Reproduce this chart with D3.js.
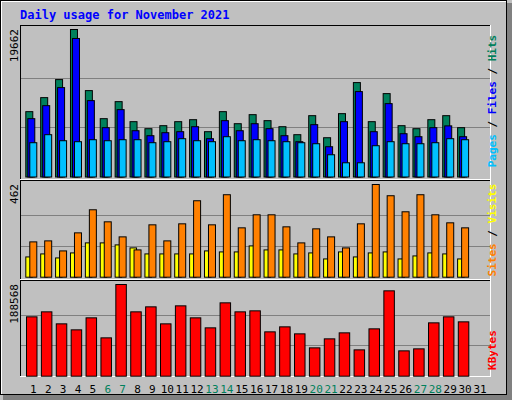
<!DOCTYPE html><html><head><meta charset="utf-8"><script src="https://cdn.jsdelivr.net/npm/d3@7"></script>
<style>body{margin:0;background:#fff}</style></head><body><svg id="c" width="512" height="400"></svg>
<script>
const days=d3.range(1,32);
const weekend=[6,7,13,14,20,21,27,28];
const hits=[8710,10580,12985,19662,11515,7775,10045,7375,6440,6840,7375,7640,6040,8710,7105,8310,7510,6705,5640,8175,5235,8445,12585,7375,11115,6840,6440,7640,8175,6575];
const files=[7775,9510,11915,18465,10180,6575,8980,6170,5505,5905,6040,6705,5105,7510,6170,7105,6440,5505,4705,6975,4035,7375,11385,6040,9780,5770,5370,6575,6815,5370];
const pages=[4570,5640,4835,4705,4970,4835,4970,4970,4570,4705,5105,4835,4705,5370,4835,4970,4835,4705,4570,4435,2965,1895,1895,4170,4705,4435,4435,4570,5105,4970];
const visits=[101,116,96,121,171,171,161,146,116,116,116,116,131,126,126,156,136,136,116,121,91,126,101,121,126,91,106,121,116,91];
const sites=[176,181,131,221,336,276,201,136,261,181,266,381,261,411,246,311,311,251,171,241,201,146,266,462,406,326,411,311,271,246];
const kbytes=[122055,132340,107655,95310,120000,78855,188568,132340,142625,107655,144685,120000,99425,150855,132340,134395,91200,101485,87085,58285,76800,89140,54170,97370,175540,52115,56225,109710,122055,111770];
const svg=d3.select("#c");
const F="DejaVu Sans Mono, monospace";
svg.append("rect").attr("x",0).attr("y",0).attr("width",512).attr("height",400).attr("fill","#c0c0c0");
svg.append("rect").attr("x",507).attr("y",3).attr("width",5).attr("height",397).attr("fill","#808080");
svg.append("rect").attr("x",3).attr("y",395).attr("width",509).attr("height",5).attr("fill","#808080");
svg.append("rect").attr("x",0.5).attr("y",0.5).attr("width",506).attr("height",394).attr("fill","none").attr("stroke","#000");
svg.append("line").attr("x1",1).attr("x2",506).attr("y1",1.5).attr("y2",1.5).attr("stroke","#fff");
svg.append("line").attr("x1",1.5).attr("x2",1.5).attr("y1",1).attr("y2",394).attr("stroke","#fff");
svg.append("text").attr("x",20).attr("y",19).attr("font-family",F).attr("font-weight","bold").attr("font-size",12).attr("fill","#0000ff").text("Daily usage for November 2021");
const x=d3.scaleLinear().domain([1,31]).range([33.3,480]);
function panel(y0,y1,top,base,max,label){
  svg.append("line").attr("x1",20).attr("x2",491).attr("y1",y0+.5).attr("y2",y0+.5).attr("stroke","#000");
  svg.append("line").attr("x1",20.5).attr("x2",20.5).attr("y1",y0).attr("y2",y1).attr("stroke","#000");
  svg.append("line").attr("x1",20).attr("x2",491).attr("y1",y1+.5).attr("y2",y1+.5).attr("stroke","#fff");
  svg.append("line").attr("x1",490.5).attr("x2",490.5).attr("y1",y0).attr("y2",y1+1).attr("stroke","#fff");
  const y=d3.scaleLinear().domain([0,max]).range([base,top]);
  [max/3,2*max/3].forEach(v=>svg.append("line").attr("x1",21).attr("x2",490).attr("y1",Math.round(y(v))+.5).attr("y2",Math.round(y(v))+.5).attr("stroke","#808080"));
  svg.append("text").attr("transform",`translate(18,${top}) rotate(-90)`).attr("text-anchor","end").attr("font-family",F).attr("font-size",11).attr("fill","#000").text(label);
  return y;
}
function bars(data,y,off,w,col){
  svg.append("g").selectAll("rect").data(data).join("rect")
   .attr("x",(d,i)=>x(i+1)+off+.5).attr("width",w).attr("y",d=>y(d)+.5).attr("height",d=>y.range()[0]-y(d))
   .attr("fill",col).attr("stroke","#000");
}
const y1=panel(25,179,29,176.5,19662,"19662");
bars(hits,y1,-8,7,"#00805c");bars(files,y1,-6,7,"#0000ff");bars(pages,y1,-4,7,"#00c0ff");
const y2=panel(180,279,184,276.7,462,"462");
bars(visits,y2,-8,6.5,"#ffff00");bars(sites,y2,-4,7,"#ff8000");
const y3=panel(280,376,284,375.7,188568,"188568");
bars(kbytes,y3,-7.3,10.5,"#ff0000");
svg.append("g").selectAll("text").data(days).join("text").attr("x",d=>x(d)).attr("y",393).attr("text-anchor","middle")
 .attr("font-family",F).attr("font-size",11).attr("fill",d=>weekend.includes(d)?"#00805c":"#000").text(d=>d);
function rlabel(cy,parts){
  const t=svg.append("text").attr("transform",`translate(503,${cy}) rotate(90)`).attr("text-anchor","middle").attr("font-family",F).attr("font-weight","bold").attr("font-size",11);
  parts.forEach(p=>t.append("tspan").attr("fill",p[1]).text(p[0]));
}
function rl(cy,parts){
  const t=svg.append("text").attr("transform",`translate(496,${cy}) rotate(-90)`).attr("text-anchor","middle").attr("font-family",F).attr("font-weight","bold").attr("font-size",11);
  parts.forEach(p=>t.append("tspan").attr("fill",p[1]).text(p[0]));
}
rl(101,[["Pages","#00c0ff"],[" / ","#000"],["Files","#0000ff"],[" / ","#000"],["Hits","#00805c"]]);
rl(230,[["Sites","#ff8000"],[" / ","#000"],["Visits","#ffff00"]]);
rl(350,[["KBytes","#ff0000"]]);
</script></body></html>
